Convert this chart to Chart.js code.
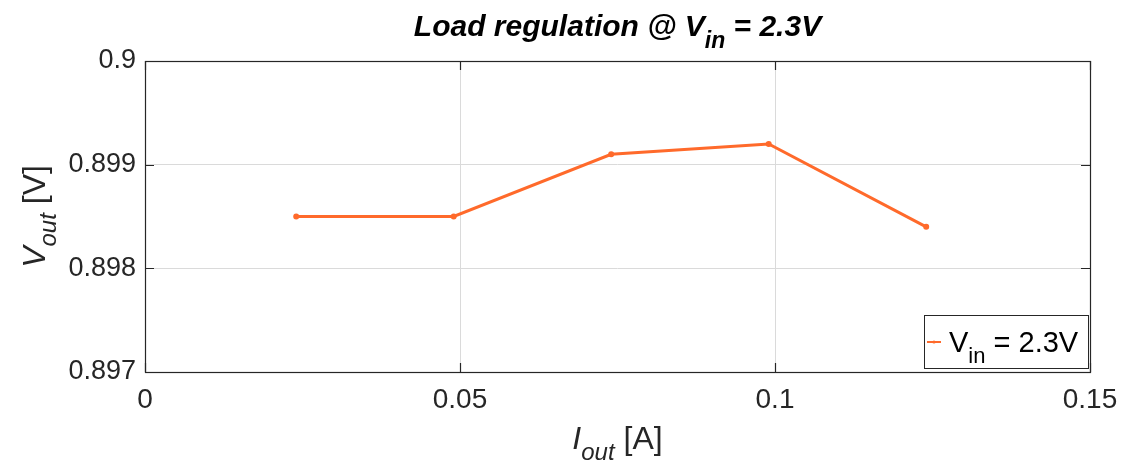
<!DOCTYPE html>
<html>
<head>
<meta charset="utf-8">
<script src="https://cdn.jsdelivr.net/npm/chart.js@4.4.0/dist/chart.umd.min.js"></script>
<style>
  html, body { margin: 0; padding: 0; background: #fff; }
  #wrap { width: 1123px; height: 466px; }
</style>
</head>
<body>
<div id="wrap"><canvas id="myChart" width="1123" height="466"></canvas></div>
<script>
// data
var iout = [0.024, 0.049, 0.074, 0.099, 0.124];
var vout = [0.8985, 0.8985, 0.8991, 0.8992, 0.8984];
var xTicks = [0, 0.05, 0.1, 0.15];
var yTicks = [0.897, 0.898, 0.899, 0.9];
var seriesName = 'Vin = 2.3V';

var lineColor = '#ff6a2b';
var fontFam = '"Liberation Sans", Arial, Helvetica, sans-serif';

// draws a list of text pieces side by side, subscripts shifted down
function richText(ctx, parts, x, y, align) {
    var w = 0;
    parts.forEach(function(p){ ctx.font = p.font; w += ctx.measureText(p.t).width; });
    var cx = align === 'center' ? x - w / 2 : x;
    ctx.textAlign = 'left';
    ctx.textBaseline = 'alphabetic';
    parts.forEach(function(p){
        ctx.font = p.font;
        ctx.fillText(p.t, cx, y + (p.dy || 0));
        cx += ctx.measureText(p.t).width;
    });
    return w;
}

var extras = {
    id: 'extras',
    afterDraw: function(chart) {
        var ctx = chart.ctx;
        var a = chart.chartArea;
        var mid = (a.left + a.right) / 2;
        ctx.save();
        ctx.fillStyle = '#000';

        // title
        richText(ctx, [
            {t: 'Load regulation @ V', font: 'italic bold 30px ' + fontFam},
            {t: 'in', font: 'italic bold 23px ' + fontFam, dy: 12},
            {t: ' = 2.3V', font: 'italic bold 30px ' + fontFam}
        ], mid, 36, 'center');

        // x axis title
        ctx.fillStyle = '#262626';
        richText(ctx, [
            {t: 'I', font: 'italic 32px ' + fontFam},
            {t: 'out', font: 'italic 24px ' + fontFam, dy: 11},
            {t: ' [A]', font: '32px ' + fontFam}
        ], mid, 449, 'center');

        // y axis title (rotated)
        ctx.save();
        ctx.translate(45, (a.top + a.bottom) / 2);
        ctx.rotate(-Math.PI / 2);
        richText(ctx, [
            {t: 'V', font: 'italic 32px ' + fontFam},
            {t: 'out', font: 'italic 24px ' + fontFam, dy: 11},
            {t: ' [V]', font: '32px ' + fontFam}
        ], 0, 0, 'center');
        ctx.restore();

        // axes box
        ctx.strokeStyle = '#262626';
        ctx.lineWidth = 1.2;
        ctx.strokeRect(a.left + 0.5, a.top + 0.5, a.right - a.left, a.bottom - a.top);

        // inward tick marks
        var xs = chart.scales.x, ys = chart.scales.y;
        ctx.beginPath();
        xTicks.forEach(function(v){
            var px = Math.round(xs.getPixelForValue(v)) + 0.5;
            ctx.moveTo(px, a.bottom); ctx.lineTo(px, a.bottom - 9);
            ctx.moveTo(px, a.top); ctx.lineTo(px, a.top + 9);
        });
        yTicks.forEach(function(v){
            var py = Math.round(ys.getPixelForValue(v)) + 0.5;
            ctx.moveTo(a.left, py); ctx.lineTo(a.left + 9, py);
            ctx.moveTo(a.right, py); ctx.lineTo(a.right - 9, py);
        });
        ctx.stroke();

        // legend box
        var lx = a.right - 166, ly = a.bottom - 57, lw = 164, lh = 53;
        ctx.fillStyle = '#fff';
        ctx.fillRect(lx, ly, lw, lh);
        ctx.strokeStyle = '#262626';
        ctx.lineWidth = 1;
        ctx.strokeRect(lx + 0.5, ly + 0.5, lw, lh);
        ctx.strokeStyle = lineColor;
        ctx.lineWidth = 2;
        ctx.beginPath();
        ctx.moveTo(lx + 3, ly + 27); ctx.lineTo(lx + 17, ly + 27);
        ctx.stroke();
        ctx.fillStyle = lineColor;
        ctx.beginPath(); ctx.arc(lx + 10, ly + 27, 1.6, 0, Math.PI * 2); ctx.fill();
        ctx.fillStyle = '#000';
        richText(ctx, [
            {t: 'V', font: '29px ' + fontFam},
            {t: 'in', font: '22px ' + fontFam, dy: 11},
            {t: ' = 2.3V', font: '29px ' + fontFam}
        ], lx + 25, ly + 37, 'left');

        ctx.restore();
    }
};

function fmt(v) { return String(Number(v.toFixed(4))); }

var ctx = document.getElementById('myChart').getContext('2d');
var myChart = new Chart(ctx, {
    type: 'line',
    data: {
        datasets: [{
            label: seriesName,
            data: iout.map(function(x, i){ return {x: x, y: vout[i]}; }),
            borderColor: lineColor,
            backgroundColor: lineColor,
            borderWidth: 3,
            pointRadius: 1.5,
            pointHoverRadius: 1.5,
            tension: 0,
            fill: false
        }]
    },
    options: {
        responsive: false,
        animation: false,
        events: [],
        layout: { padding: { left: 0, right: 33, top: 61, bottom: 0 } },
        plugins: { legend: { display: false }, title: { display: false }, tooltip: { enabled: false } },
        scales: {
            x: {
                type: 'linear',
                min: 0, max: 0.15,
                afterBuildTicks: function(s){ s.ticks = xTicks.map(function(v){ return {value: v}; }); },
                afterFit: function(s){ s.height = 94; s.paddingLeft = 0; s.paddingRight = 0; },
                grid: { color: '#dadada', drawTicks: false },
                border: { display: false },
                ticks: {
                    padding: 11,
                    color: '#262626',
                    font: { family: fontFam, size: 28 },
                    maxRotation: 0,
                    callback: function(v){ return fmt(v); }
                }
            },
            y: {
                min: 0.897, max: 0.9,
                afterBuildTicks: function(s){ s.ticks = yTicks.map(function(v){ return {value: v}; }); },
                afterFit: function(s){ s.width = 145; s.paddingTop = 0; s.paddingBottom = 0; },
                grid: { color: '#dadada', drawTicks: false },
                border: { display: false },
                ticks: {
                    padding: 9,
                    color: '#262626',
                    font: { family: fontFam, size: 27 },
                    callback: function(v){ return fmt(v); }
                }
            }
        }
    },
    plugins: [extras]
});
</script>
</body>
</html>
